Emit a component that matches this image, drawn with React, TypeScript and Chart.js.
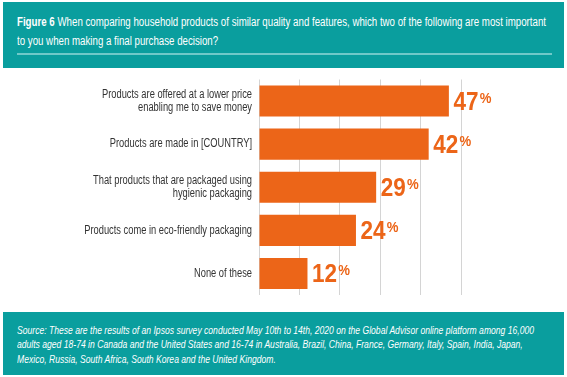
import React, { useEffect, useLayoutEffect, useRef } from "react";
import { Chart, registerables } from "chart.js";

Chart.register(...registerables);

const categories: string[][] = [
  ["Products are offered at a lower price", "enabling me to save money"],
  ["Products are made in [COUNTRY]"],
  ["That products that are packaged using", "hygienic packaging"],
  ["Products come in eco-friendly packaging"],
  ["None of these"],
];
const values: number[] = [47, 42, 29, 24, 12];
const xTicks: number[] = [0, 10, 20, 30, 40, 50];

const titleBold = "Figure 6";
const titleLines: string[] = [
  " When comparing household products of similar quality and features, which two of the following are most important",
  "to you when making a final purchase decision?",
];
const sourceLines: string[] = [
  "Source: These are the results of an Ipsos survey conducted May 10th to 14th, 2020 on the Global Advisor online platform among 16,000",
  "adults aged 18-74 in Canada and the United States and 16-74 in Australia, Brazil, China, France, Germany, Italy, Spain, India, Japan,",
  "Mexico, Russia, South Africa, South Korea and the United Kingdom.",
];

const ORANGE = "#EC6518";
const TEAL = "#0A9E9E";
const FONT = '"Liberation Sans", Arial, sans-serif';

const labelPlugin = {
  id: "condensedLabels",
  afterDatasetsDraw(chart: any) {
    const ctx = chart.ctx;
    const meta = chart.getDatasetMeta(0);
    ctx.save();
    // y-axis category labels (condensed)
    ctx.font = `12px ${FONT}`;
    const ref = ctx.measureText(categories[0][0]).width;
    const s = 150 / ref;
    ctx.fillStyle = "#333333";
    ctx.textAlign = "right";
    ctx.textBaseline = "middle";
    meta.data.forEach((bar: any, i: number) => {
      const lines = categories[i];
      const lh = 13.5;
      const y0 = bar.y - ((lines.length - 1) * lh) / 2;
      lines.forEach((ln, j) => {
        ctx.save();
        ctx.translate(252, y0 + j * lh);
        ctx.scale(s, 1);
        ctx.fillText(ln, 0, 0);
        ctx.restore();
      });
    });
    // value labels
    ctx.fillStyle = ORANGE;
    ctx.textAlign = "left";
    ctx.textBaseline = "alphabetic";
    meta.data.forEach((bar: any, i: number) => {
      const num = String(values[i]);
      ctx.save();
      ctx.translate(bar.x + 4.5, bar.y + 9);
      ctx.scale(0.85, 1);
      ctx.font = `bold 26.5px ${FONT}`;
      ctx.fillText(num, 0, 0);
      const w = ctx.measureText(num).width;
      ctx.font = `bold 15.5px ${FONT}`;
      ctx.fillText("%", w + 1.5, -7);
      ctx.restore();
    });
    ctx.restore();
  },
};

function Condensed(props: { lines: React.ReactNode[]; target: number; fontSize: number; lineHeight: number; italic?: boolean; left: number; top: number }) {
  const boxRef = useRef<HTMLDivElement | null>(null);
  const firstRef = useRef<HTMLSpanElement | null>(null);
  useLayoutEffect(() => {
    if (!boxRef.current || !firstRef.current) return;
    const w = firstRef.current.getBoundingClientRect().width;
    const s = props.target / w;
    boxRef.current.style.transform = `scaleX(${s})`;
  }, []);
  return (
    <div
      ref={boxRef}
      style={{
        position: "absolute",
        left: props.left,
        top: props.top,
        transformOrigin: "0 0",
        fontSize: props.fontSize,
        lineHeight: `${props.lineHeight}px`,
        fontStyle: props.italic ? "italic" : "normal",
        whiteSpace: "nowrap",
      }}
    >
      {props.lines.map((ln, i) => (
        <div key={i}>
          <span ref={i === 0 ? firstRef : undefined}>{ln}</span>
        </div>
      ))}
    </div>
  );
}

export default function App() {
  const canvasRef = useRef<HTMLCanvasElement | null>(null);

  useEffect(() => {
    if (!canvasRef.current) return;
    const chart = new Chart(canvasRef.current, {
      type: "bar",
      data: {
        labels: categories,
        datasets: [
          {
            data: values,
            backgroundColor: ORANGE,
            borderWidth: 0,
            categoryPercentage: 0.85,
            barPercentage: 0.85,
          },
        ],
      },
      options: {
        indexAxis: "y",
        animation: false,
        responsive: false,
        maintainAspectRatio: false,
        layout: { padding: { top: 79.5, bottom: 82, right: 106, left: 0 } },
        plugins: {
          legend: { display: false },
          tooltip: { enabled: false },
        },
        scales: {
          x: {
            min: 0,
            max: 50,
            afterBuildTicks: (scale: any) => {
              scale.ticks = xTicks.map((v) => ({ value: v }));
            },
            afterFit: (scale: any) => {
              scale.height = 0;
            },
            ticks: { display: false },
            border: { display: false },
            grid: { color: "#d4d4d4", lineWidth: 1, drawTicks: false },
          },
          y: {
            afterFit: (scale: any) => {
              scale.width = 259;
            },
            border: { display: false },
            grid: { display: false, drawTicks: false },
            ticks: { display: false },
          },
        },
      },
      plugins: [labelPlugin],
    });
    return () => chart.destroy();
  }, []);

  const boxStyle: React.CSSProperties = {
    position: "absolute",
    left: 3,
    width: 561,
    background: TEAL,
    color: "#ffffff",
    boxSizing: "border-box",
    fontFamily: FONT,
  };

  return (
    <div style={{ position: "fixed", left: 0, top: 0, width: 567, height: 377, background: "#fff", overflow: "hidden" }}>
      <canvas ref={canvasRef} width={567} height={377} style={{ position: "absolute", left: 0, top: 0, width: 567, height: 377 }} />
      <div style={{ ...boxStyle, top: 2, height: 66 }}>
        <Condensed
          left={14}
          top={11}
          fontSize={12.5}
          lineHeight={18.5}
          target={529}
          lines={[
            <>
              <b>{titleBold}</b>
              {titleLines[0]}
            </>,
            titleLines[1],
          ]}
        />
        <div style={{ position: "absolute", left: 14, top: 51, width: 535, height: 1.5, background: "#6fc9c9" }} />
      </div>
      <div style={{ ...boxStyle, top: 312, height: 63 }}>
        <Condensed left={14} top={10.5} fontSize={11} lineHeight={14.5} italic target={517} lines={sourceLines} />
      </div>
    </div>
  );
}
